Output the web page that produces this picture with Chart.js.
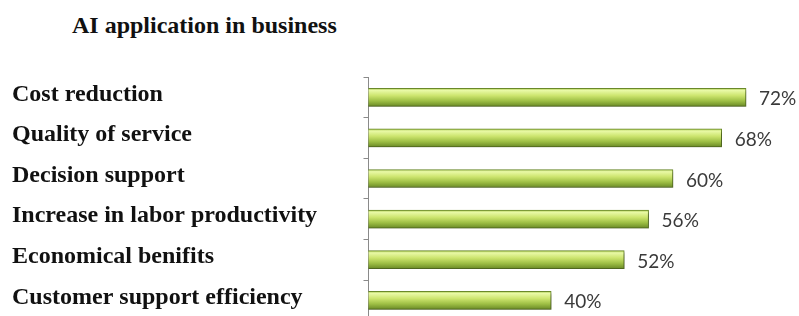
<!DOCTYPE html>
<html>
<head>
<meta charset="utf-8">
<script src="https://cdn.jsdelivr.net/npm/chart.js@4"></script>
<style>
  html, body { margin: 0; padding: 0; background: #fff; overflow: hidden; }
  #wrap { position: relative; width: 799px; height: 316px; overflow: hidden; }
  #title {
    position: absolute; left: 72px; top: 12px;
    font: bold 24px "Liberation Serif", "Times New Roman", serif;
    color: #111;
  }
  canvas { position: absolute; left: 0; top: 0; }
</style>
</head>
<body>
<div id="wrap">
  <div id="title">AI application in business</div>
  <canvas id="chart" width="799" height="338"></canvas>
</div>
<script>
// Chart data
const categories = [
    'Cost reduction',
    'Quality of service',
    'Decision support',
    'Increase in labor productivity',
    'Economical benifits',
    'Customer support efficiency'
];
const shares = [72, 68, 60, 56, 52, 40];

// Green 3D-looking fill for each bar
function barFill(c) {
    const chart = c.chart;
    const y = chart.scales && chart.scales.y;
    if (!y || c.dataIndex === undefined) return '#b5d35a';
    const cy = y.getPixelForValue(c.dataIndex);
    if (!isFinite(cy)) return '#b5d35a';
    const g = chart.ctx.createLinearGradient(0, cy - 9, 0, cy + 9);
    g.addColorStop(0, '#a9c94e');
    g.addColorStop(0.12, '#e9f9a6');
    g.addColorStop(0.4, '#cde56f');
    g.addColorStop(0.7, '#9ebf45');
    g.addColorStop(1, '#6a8a26');
    return g;
}

// Drop shadow under the bars
const barShadow = {
    id: 'barShadow',
    beforeDatasetsDraw(chart) {
        const ctx = chart.ctx;
        ctx.save();
        ctx.shadowColor = 'rgba(0, 0, 0, 0.35)';
        ctx.shadowOffsetX = 2;
        ctx.shadowOffsetY = 2;
        ctx.shadowBlur = 3;
    },
    afterDatasetsDraw(chart) {
        chart.ctx.restore();
    }
};

// Percent labels at the end of each bar
const valueLabels = {
    id: 'valueLabels',
    afterDatasetsDraw(chart) {
        const ctx = chart.ctx;
        const meta = chart.getDatasetMeta(0);
        ctx.save();
        ctx.font = '19px Lato, "Open Sans", sans-serif';
        ctx.fillStyle = '#3a3a3a';
        ctx.textAlign = 'left';
        ctx.textBaseline = 'middle';
        meta.data.forEach((bar, i) => {
            ctx.fillText(shares[i] + '%', bar.x + 13, bar.y + 2);
        });
        ctx.restore();
    }
};

new Chart(document.getElementById('chart'), {
    type: 'bar',
    data: {
        labels: categories,
        datasets: [{
            data: shares,
            backgroundColor: barFill,
            borderColor: '#6b8a2a',
            borderWidth: 1,
            barThickness: 18
        }]
    },
    options: {
        indexAxis: 'y',
        responsive: false,
        animation: false,
        layout: { padding: { left: 12, top: 77, right: 0, bottom: 0 } },
        plugins: {
            legend: { display: false },
            tooltip: { enabled: false }
        },
        scales: {
            x: {
                display: false,
                min: 10,
                max: 80.7
            },
            y: {
                afterFit(scale) { scale.width = 356.5; },
                grid: {
                    drawOnChartArea: false,
                    color: '#8a8a8a',
                    tickLength: 5
                },
                border: { color: '#8a8a8a' },
                ticks: {
                    crossAlign: 'far',
                    labelOffset: -3,
                    color: '#111',
                    font: { family: '"Liberation Serif", "Times New Roman", serif', size: 24, weight: 'bold' }
                }
            }
        }
    },
    plugins: [barShadow, valueLabels]
});
</script>
</body>
</html>
